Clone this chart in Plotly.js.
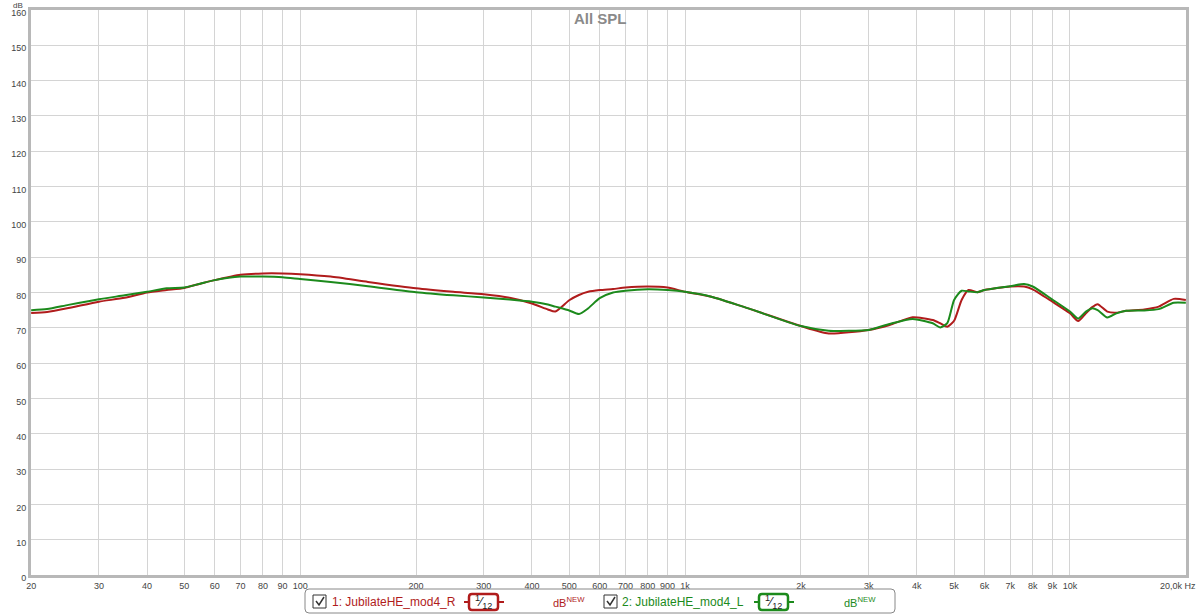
<!DOCTYPE html>
<html><head><meta charset="utf-8">
<script src="https://cdn.plot.ly/plotly-3.0.1.min.js"></script>
<style>html,body{margin:0;padding:0;background:#fff;}#chart{width:1200px;height:616px;}</style>
</head><body><div id="chart"></div>
<script>
// Frequencies (Hz)
const freq = [20,22,25,30,35,40,45,50,55,60,70,80,90,100,120,150,200,250,300,350,400,440,460,500,530,560,600,650,700,800,900,1000,1170,1460,2000,2360,3000,3400,3900,4400,4600,4800,5000,5230,5450,5750,6000,7000,7600,8000,9000,10000,10500,11000,11400,11800,12500,13200,14000,15600,17000,18600,20000];
// 1: JubilateHE_mod4_R (dB)
const splR = [74.2,74.5,75.6,77.4,78.5,80.0,80.7,81.3,82.5,83.5,85.0,85.4,85.4,85.2,84.5,83.0,81.2,80.2,79.5,78.5,76.9,75.2,74.6,77.8,79.3,80.2,80.7,81.0,81.4,81.7,81.4,80.2,78.8,75.5,70.5,68.4,69.4,70.8,73.0,72.2,71.3,70.3,72.0,77.9,80.7,80.1,80.7,81.7,81.7,80.9,77.4,74.1,71.9,74.1,75.8,76.7,74.6,74.3,74.8,75.2,76.0,78.2,77.9];
// 2: JubilateHE_mod4_L (dB)
const splL = [75.0,75.3,76.5,78.1,79.2,80.2,81.2,81.4,82.5,83.5,84.5,84.5,84.3,83.8,83.0,81.8,80.1,79.2,78.6,78.0,77.4,76.6,76.0,74.9,73.9,75.5,78.4,80.0,80.5,80.9,80.7,80.2,78.8,75.5,70.5,69.2,69.4,71.1,72.5,71.3,70.1,71.3,77.9,80.5,80.3,80.1,80.7,81.8,82.4,81.7,78.0,74.6,72.6,74.6,75.5,75.0,72.9,74.1,74.8,74.9,75.3,77.1,77.1];
const seriesNames = ["1: JubilateHE_mod4_R","2: JubilateHE_mod4_L"];
const xTickVals = [20,30,40,50,60,70,80,90,100,200,300,400,500,600,700,800,900,1000,2000,3000,4000,5000,6000,7000,8000,9000,10000,20000];
const xTickText = ["20","30","40","50","60","70","80","90","100","200","300","400","500","600","700","800","900","1k","2k","3k","4k","5k","6k","7k","8k","9k","10k",""];
const xEndLabel = "20,0k Hz";

const RED = "#b01c1c", GREEN = "#1c8a1c";
const L = 31, R = 1186, T = 10, B = 575;
const px = x => (x - L) / (R - L);
const py = y => (B - y) / (B - T);

const traces = [
  {x: freq, y: splR, type: "scatter", mode: "lines", name: seriesNames[0], line: {color: RED, width: 2, shape: "spline", smoothing: 0.6}},
  {x: freq, y: splL, type: "scatter", mode: "lines", name: seriesNames[1], line: {color: GREEN, width: 2, shape: "spline", smoothing: 0.6}}
];

const shapes = [];
const annotations = [];
function roundRect(x0, y0, x1, y1, r) {
  const X = px, Y = py;
  return `M ${X(x0 + r)} ${Y(y0)} L ${X(x1 - r)} ${Y(y0)} Q ${X(x1)} ${Y(y0)} ${X(x1)} ${Y(y0 + r)} L ${X(x1)} ${Y(y1 - r)} Q ${X(x1)} ${Y(y1)} ${X(x1 - r)} ${Y(y1)} L ${X(x0 + r)} ${Y(y1)} Q ${X(x0)} ${Y(y1)} ${X(x0)} ${Y(y1 - r)} L ${X(x0)} ${Y(y0 + r)} Q ${X(x0)} ${Y(y0)} ${X(x0 + r)} ${Y(y0)} Z`;
}
// legend box
shapes.push({type: "path", xref: "paper", yref: "paper", path: roundRect(305, 589, 895, 613, 4), line: {color: "#888", width: 1}, fillcolor: "#fff"});
function checkbox(x) {
  shapes.push({type: "rect", xref: "paper", yref: "paper", x0: px(x), x1: px(x + 13), y0: py(595), y1: py(608), line: {color: "#333", width: 1}});
  shapes.push({type: "path", xref: "paper", yref: "paper", path: `M ${px(x+3)} ${py(601)} L ${px(x+6)} ${py(605)} L ${px(x+11)} ${py(597)}`, line: {color: "#333", width: 1.5}});
}
function octBox(x, color) {
  shapes.push({type: "line", xref: "paper", yref: "paper", x0: px(x - 5), x1: px(x + 35), y0: py(602), y1: py(602), line: {color: color, width: 2}});
  shapes.push({type: "path", xref: "paper", yref: "paper", path: roundRect(x, 594, x + 29, 610, 3), line: {color: color, width: 2.5}, fillcolor: "#fff"});
  annotations.push({xref: "paper", yref: "paper", x: px(x + 14.5), y: py(602), text: "<sup>1</sup>⁄<sub>12</sub>", showarrow: false, font: {family: "Liberation Sans", size: 13, color: "#222"}, xanchor: "center", yanchor: "middle"});
}
checkbox(313);
annotations.push({xref: "paper", yref: "paper", x: px(330), y: py(602), text: seriesNames[0], showarrow: false, xanchor: "left", yanchor: "middle", font: {family: "Liberation Sans", size: 12, color: RED}});
octBox(469, RED);
annotations.push({xref: "paper", yref: "paper", x: px(551), y: py(602), text: "dB<sup>NEW</sup>", showarrow: false, xanchor: "left", yanchor: "middle", font: {family: "Liberation Sans", size: 11, color: RED}});
checkbox(604);
annotations.push({xref: "paper", yref: "paper", x: px(620), y: py(602), text: seriesNames[1], showarrow: false, xanchor: "left", yanchor: "middle", font: {family: "Liberation Sans", size: 12, color: GREEN}});
octBox(759, GREEN);
annotations.push({xref: "paper", yref: "paper", x: px(842), y: py(602), text: "dB<sup>NEW</sup>", showarrow: false, xanchor: "left", yanchor: "middle", font: {family: "Liberation Sans", size: 11, color: GREEN}});
// dB label
annotations.push({xref: "paper", yref: "paper", x: px(18), y: py(-1), text: "dB", showarrow: false, xanchor: "center", yanchor: "top", font: {family: "Liberation Sans", size: 8, color: "#444"}});
// last x label
annotations.push({xref: "paper", yref: "paper", x: px(1198), y: py(586), text: xEndLabel, showarrow: false, xanchor: "right", yanchor: "middle", font: {family: "Liberation Sans", size: 9, color: "#444"}});
// title
annotations.push({xref: "paper", yref: "paper", x: px(600), y: py(18), text: "<b>All SPL</b>", showarrow: false, xanchor: "center", yanchor: "middle", font: {family: "Liberation Sans", size: 15, color: "#8a8a8a"}});

const layout = {
  width: 1200, height: 616,
  margin: {l: L, r: 1200 - R, t: T, b: 616 - B},
  paper_bgcolor: "#fff", plot_bgcolor: "#fff",
  showlegend: false,
  xaxis: {type: "log", range: [Math.log10(20) - 0.0004, Math.log10(20000) + 0.0004], tickvals: xTickVals, ticktext: xTickText,
          showgrid: true, gridcolor: "#d4d4d4", gridwidth: 1, zeroline: false,
          showline: true, linecolor: "#b8b8b8", linewidth: 3, mirror: true, ticks: "",
          tickfont: {family: "Liberation Sans", size: 9, color: "#444"}},
  yaxis: {range: [0, 160], dtick: 10, tick0: 0, showgrid: true, gridcolor: "#d4d4d4", gridwidth: 1, zeroline: false,
          showline: true, linecolor: "#b8b8b8", linewidth: 3, mirror: true, ticks: "", ticklabelshift: 3,
          tickfont: {family: "Liberation Sans", size: 9, color: "#444"}},
  shapes: shapes, annotations: annotations
};
Plotly.newPlot("chart", traces, layout, {displayModeBar: false, staticPlot: true});
</script></body></html>
